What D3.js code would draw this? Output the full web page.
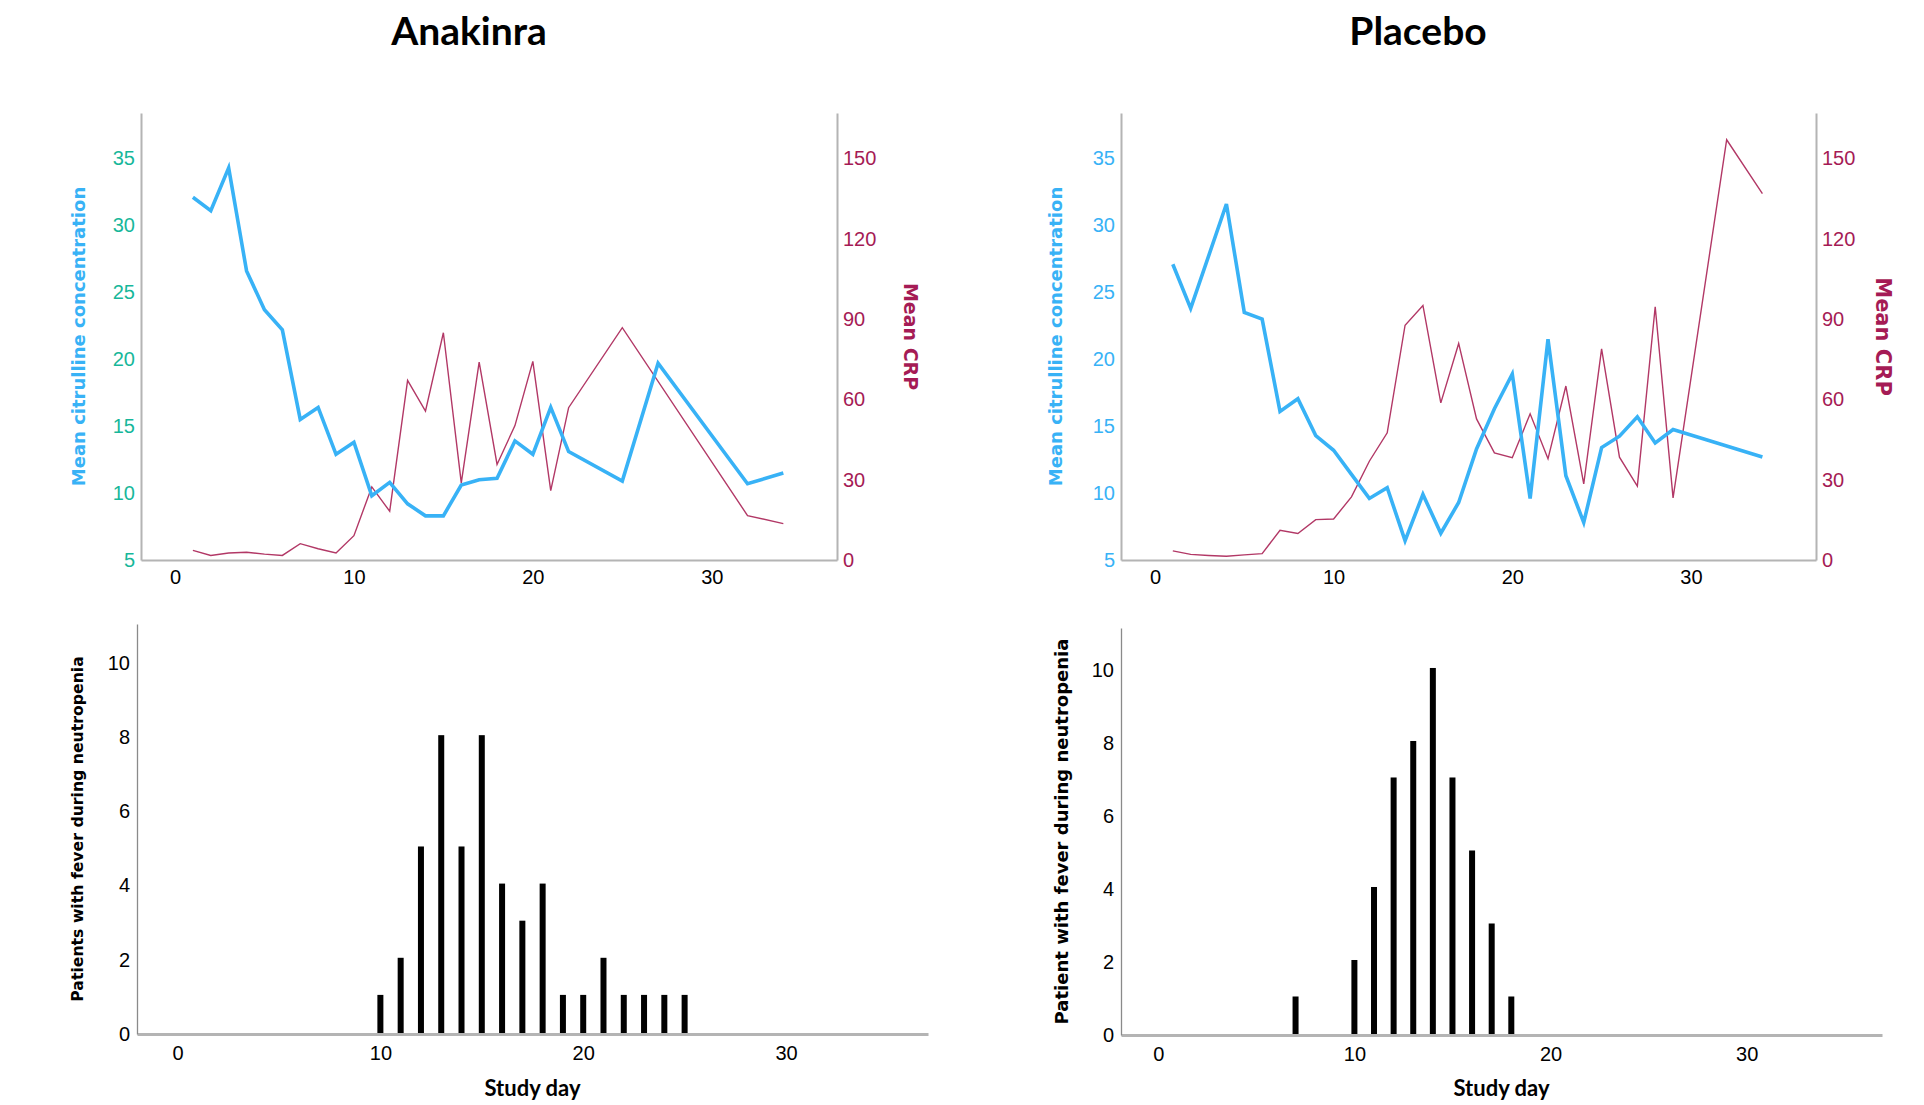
<!DOCTYPE html>
<html>
<head>
<meta charset="utf-8">
<script src="https://cdn.jsdelivr.net/npm/d3@7"></script>
<style>
body { margin: 0; background: #fff; }
svg { display: block; }
</style>
</head>
<body>
<svg id="chart" width="1924" height="1105"></svg>
<script>

// ---- data ----

// Anakinra: mean citrulline per study day
var anaCitDays   = [1,2,3,4,5,6,7,8,9,10,11,12,13,14,15,16,17,18,19,20,21,22,25,27,32,34];
var anaCitValues = [32.1,31.1,34.3,26.6,23.7,22.2,15.5,16.4,12.9,13.8,9.8,10.8,9.2,8.3,8.3,10.6,11.0,11.1,13.9,12.9,16.4,13.1,10.9,19.7,10.7,11.5];

// Anakinra: mean CRP per study day
var anaCrpDays   = [1,2,3,4,5,6,7,8,9,10,11,12,13,14,15,16,17,18,19,20,21,22,25,32,34];
var anaCrpValues = [3.6,1.7,2.6,2.9,2.2,1.7,6.1,4.2,2.6,9.1,27.3,18.2,67.1,55.6,84.9,28.8,73.9,35.7,50.2,74.2,25.9,56.9,86.8,16.6,13.6];

// Placebo: mean citrulline per study day
var plaCitDays   = [1,2,4,5,6,7,8,9,10,11,12,13,14,15,16,17,18,19,20,21,22,23,24,25,26,27,28,29,34];
var plaCitValues = [27.1,23.8,31.6,23.5,23.0,16.1,17.05,14.3,13.2,11.4,9.6,10.4,6.45,9.9,7.0,9.3,13.3,16.3,18.9,9.6,21.5,11.3,7.8,13.4,14.25,15.7,13.75,14.75,12.7];

// Placebo: mean CRP per study day
var plaCrpDays   = [1,2,3,4,5,6,7,8,9,10,11,12,13,14,15,16,17,18,19,20,21,22,23,24,25,26,27,28,29,32,34];
var plaCrpValues = [3.4,2.1,1.7,1.4,1.9,2.4,11.1,9.9,15.1,15.3,23.6,36.9,47.5,87.7,95.1,58.7,80.9,52.7,40.0,38.2,54.6,37.8,65.0,28.4,78.9,38.4,27.6,94.6,23.2,157.0,136.9];

// patients with fever during neutropenia, per study day
var anaFeverDays   = [10,11,12,13,14,15,16,17,18,19,20,21,22,23,24,25];
var anaFeverCounts = [1,2,5,8,5,8,4,3,4,1,1,2,1,1,1,1];
var plaFeverDays   = [7,10,11,12,13,14,15,16,17,18];
var plaFeverCounts = [1,2,4,7,8,10,7,5,3,1];

// tick labels
var dayTicks = [0,10,20,30];
var citTicks = [5,10,15,20,25,30,35];
var crpTicks = [0,30,60,90,120,150];
var feverTicks = [0,2,4,6,8,10];

var groupTitles = ["Anakinra", "Placebo"];


// ---- styles ----
var BLUE = "#38b2f6";
var TEAL = "#17b79a";
var CRIMSON = "#a51b55";
var CRP_LINE = "#b23866";
var AXIS_GRAY = "#b4b4b4";
var TICK_FONT = "'Liberation Sans', Arial, sans-serif";
var TITLE_FONT = "'DejaVu Sans', Verdana, sans-serif";
var HEAD_FONT = "Lato, 'Open Sans', sans-serif";

var svg = d3.select("#chart");

function zip(xs, ys) {
	return xs.map(function(x, i) { return {day: x, value: ys[i]}; });
}


//////////////////////////////////////////////////////////////////////////
//  dual-axis line panel (citrulline left, CRP right)
//////////////////////////////////////////////////////////////////////////
function drawLinePanel(opt) {
	var g = svg.append("g");

	var x = d3.scaleLinear().domain([-1.9, 37]).range([opt.left, opt.right]);
	var yCit = d3.scaleLinear().domain([5, 38.4]).range([opt.bottom, opt.top]);
	var yCrp = d3.scaleLinear().domain([0, 167]).range([opt.bottom, opt.top]);

	// axes, drawn with d3 axes, ticks hidden
	var xAxis = g.append("g")
		.attr("transform", "translate(0," + opt.bottom + ")")
		.call(d3.axisBottom(x).tickValues(dayTicks).tickSize(0).tickPadding(10));
	var leftAxis = g.append("g")
		.attr("transform", "translate(" + opt.left + ",0)")
		.call(d3.axisLeft(yCit).tickValues(citTicks).tickSize(0).tickPadding(6));
	var rightAxis = g.append("g")
		.attr("transform", "translate(" + opt.right + ",0)")
		.call(d3.axisRight(yCrp).tickValues(crpTicks).tickSize(0).tickPadding(6));

	[xAxis, leftAxis, rightAxis].forEach(function(a) {
		a.select(".domain").attr("stroke", AXIS_GRAY).attr("stroke-width", 2);
		a.selectAll("text").style("font-family", TICK_FONT).style("font-size", "20px");
	});
	xAxis.selectAll("text").attr("fill", "#000");
	leftAxis.selectAll("text").attr("fill", opt.citTickColor);
	rightAxis.selectAll("text").attr("fill", CRIMSON);

	// CRP line (thin)
	g.append("path")
		.datum(zip(opt.crpDays, opt.crpValues))
		.attr("fill", "none")
		.attr("stroke", CRP_LINE)
		.attr("stroke-width", 1.4)
		.attr("d", d3.line().x(function(d) { return x(d.day); }).y(function(d) { return yCrp(d.value); }));

	// citrulline line (thick)
	g.append("path")
		.datum(zip(opt.citDays, opt.citValues))
		.attr("fill", "none")
		.attr("stroke", BLUE)
		.attr("stroke-width", 3.6)
		.attr("stroke-linejoin", "miter")
		.attr("d", d3.line().x(function(d) { return x(d.day); }).y(function(d) { return yCit(d.value); }));

	var midY = (opt.top + opt.bottom) / 2;

	g.append("text")
		.attr("transform", "translate(" + opt.citTitleX + "," + midY + ") rotate(-90)")
		.attr("text-anchor", "middle")
		.attr("dy", "0.36em")
		.attr("fill", BLUE)
		.style("font-family", TITLE_FONT)
		.style("font-weight", "bold")
		.style("font-size", "18px")
		.text("Mean citrulline concentration");

	g.append("text")
		.attr("transform", "translate(" + opt.crpTitleX + "," + midY + ") rotate(90)")
		.attr("text-anchor", "middle")
		.attr("dy", "0.36em")
		.attr("fill", CRIMSON)
		.style("font-family", TITLE_FONT)
		.style("font-weight", "bold")
		.style("font-size", opt.crpTitleSize)
		.text("Mean CRP");

	// group heading
	g.append("text")
		.attr("x", opt.headX)
		.attr("y", 45)
		.attr("text-anchor", "middle")
		.style("font-family", HEAD_FONT)
		.style("font-weight", "bold")
		.style("font-size", "39px")
		.text(opt.heading);
}


//////////////////////////////////////////////////////////////////////////
//  bar (spike) panel for fever counts
//////////////////////////////////////////////////////////////////////////
function drawBarPanel(opt) {
	var g = svg.append("g");

	var x = d3.scaleLinear().domain(opt.xDomain).range([opt.left, opt.right]);
	var y = d3.scaleLinear().domain([0, opt.yMax]).range([opt.bottom, opt.top]);

	g.selectAll(".bar")
		.data(zip(opt.days, opt.counts))
		.enter()
		.append("rect")
		.attr("class", "bar")
		.attr("x", function(d) { return x(d.day) - 3; })
		.attr("width", 6)
		.attr("y", function(d) { return y(d.value) - 2; })
		.attr("height", function(d) { return opt.bottom - y(d.value) + 2; })
		.attr("fill", "#000");

	var xAxis = g.append("g")
		.attr("transform", "translate(0," + opt.bottom + ")")
		.call(d3.axisBottom(x).tickValues(dayTicks).tickSize(0).tickPadding(12));
	xAxis.select(".domain").attr("stroke", AXIS_GRAY).attr("stroke-width", 2.8);

	var yAxis = g.append("g")
		.attr("transform", "translate(" + opt.left + ",0)")
		.call(d3.axisLeft(y).tickValues(feverTicks).tickSize(0).tickPadding(7));
	yAxis.select(".domain").attr("stroke", "#8a8a8a").attr("stroke-width", 1.3);

	[xAxis, yAxis].forEach(function(a) {
		a.selectAll("text").attr("fill", "#000").style("font-family", TICK_FONT).style("font-size", "20px");
	});

	g.append("text")
		.attr("x", (opt.left + opt.right) / 2)
		.attr("y", 1096)
		.attr("text-anchor", "middle")
		.style("font-family", HEAD_FONT)
		.style("font-weight", "bold")
		.style("font-size", "22px")
		.text("Study day");

	g.append("text")
		.attr("transform", "translate(" + opt.titleX + "," + ((opt.top + opt.bottom) / 2) + ") rotate(-90)")
		.attr("text-anchor", "middle")
		.attr("dy", "0.36em")
		.attr("fill", "#000")
		.style("font-family", TITLE_FONT)
		.style("font-weight", "bold")
		.style("font-size", opt.titleSize)
		.text(opt.title);
}


drawLinePanel({
	left: 141, right: 837, top: 113, bottom: 560,
	citDays: anaCitDays, citValues: anaCitValues,
	crpDays: anaCrpDays, crpValues: anaCrpValues,
	citTickColor: TEAL,
	citTitleX: 79, crpTitleX: 911, crpTitleSize: "19px",
	heading: groupTitles[0], headX: 469
});

drawLinePanel({
	left: 1121, right: 1816, top: 113, bottom: 560,
	citDays: plaCitDays, citValues: plaCitValues,
	crpDays: plaCrpDays, crpValues: plaCrpValues,
	citTickColor: BLUE,
	citTitleX: 1056, crpTitleX: 1884, crpTitleSize: "21px",
	heading: groupTitles[1], headX: 1418
});

drawBarPanel({
	left: 137, right: 928, top: 624, bottom: 1034,
	xDomain: [-2, 37], yMax: 11.05,
	days: anaFeverDays, counts: anaFeverCounts,
	title: "Patients with fever during neutropenia", titleX: 77, titleSize: "15.7px"
});

drawBarPanel({
	left: 1121, right: 1882, top: 628, bottom: 1035,
	xDomain: [-1.9, 36.9], yMax: 11.15,
	days: plaFeverDays, counts: plaFeverCounts,
	title: "Patient with fever during neutropenia", titleX: 1062, titleSize: "18px"
});

</script>
</body>
</html>
